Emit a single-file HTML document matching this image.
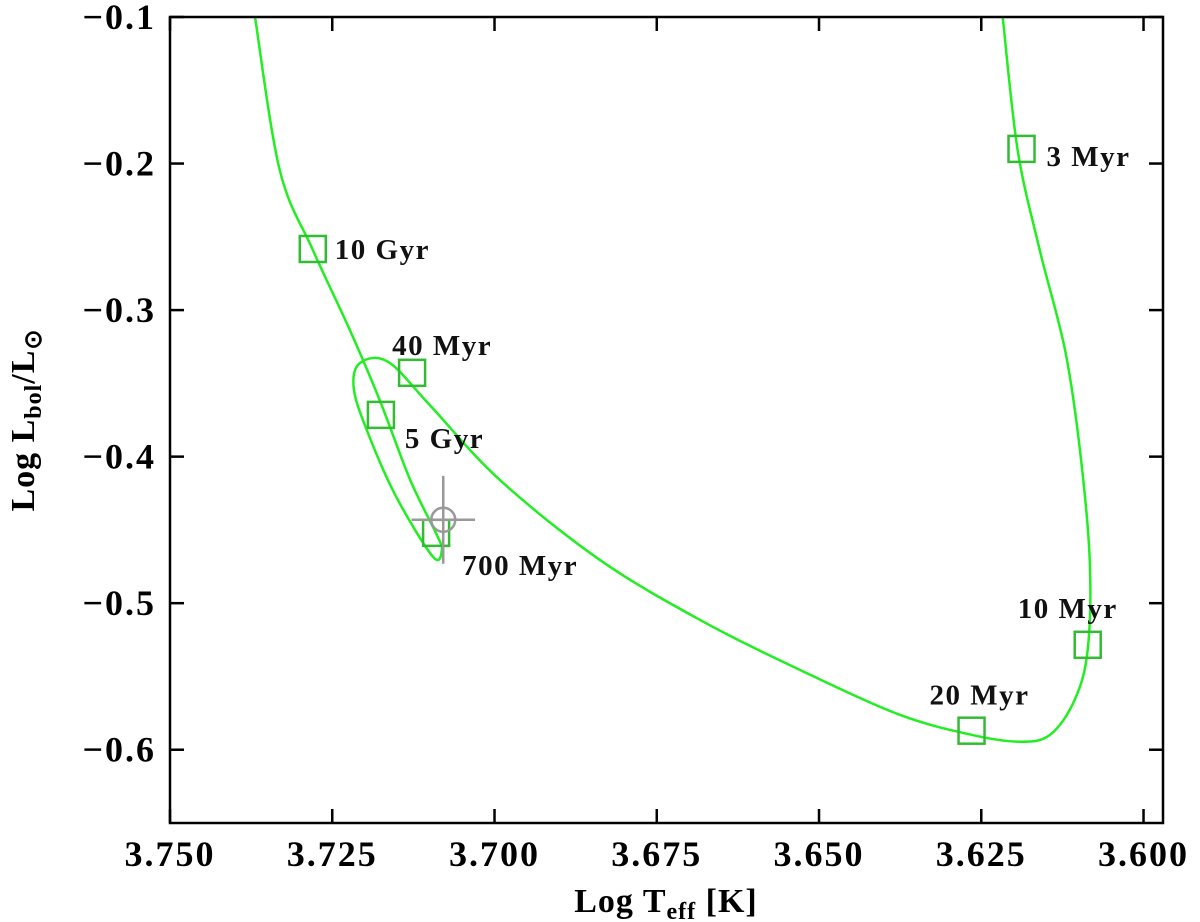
<!DOCTYPE html>
<html><head><meta charset="utf-8"><style>
body{margin:0;background:#fff}
svg{display:block;font-family:"Liberation Serif",serif;font-weight:bold}
</style></head><body>
<svg id="chart" width="1200" height="922" viewBox="0 0 1200 922" xmlns="http://www.w3.org/2000/svg">
<g id="marks"></g>
<g id="axes"></g>
</svg>
<script>
const xTicks=[3.750,3.725,3.700,3.675,3.650,3.625,3.600];
const xTickLabels=["3.750","3.725","3.700","3.675","3.650","3.625","3.600"];
const yTicks=[-0.1,-0.2,-0.3,-0.4,-0.5,-0.6];
const yTickLabels=["\u22120.1","\u22120.2","\u22120.3","\u22120.4","\u22120.5","\u22120.6"];
const trackT=[3.6217,3.6194,3.6160,3.6121,3.6098,3.6083,3.6086,3.6106,3.6144,3.6191,3.6265,3.6376,3.6530,3.6684,3.6838,3.6992,3.7100,3.7164,3.7207,3.7217,3.7197,3.7153,3.7095,3.7081,3.7089,3.7130,3.7177,3.7223,3.7280,3.7331,3.7369];
const trackL=[-0.1,-0.1907,-0.2589,-0.3271,-0.3953,-0.4704,-0.5318,-0.5659,-0.5898,-0.5945,-0.5898,-0.5761,-0.5454,-0.5113,-0.4704,-0.4158,-0.3647,-0.3353,-0.3360,-0.3531,-0.3817,-0.4261,-0.4683,-0.4636,-0.4533,-0.4158,-0.3613,-0.3135,-0.2589,-0.2044,-0.1];
const ageNames=["3 Myr","10 Gyr","40 Myr","5 Gyr","700 Myr","20 Myr","10 Myr"];
const ageT=[3.6188,3.7280,3.7127,3.7175,3.7090,3.6265,3.6086];
const ageL=[-0.1900,-0.2583,-0.3428,-0.3715,-0.4520,-0.5870,-0.5284];
const labelDx=[25,22,-20,24,26,-42,-70];
const labelDy=[17,10,-18,33,42,-26,-27];
const starT=3.7079, starL=-0.4431, starErrT=0.0049, starErrL=0.03;

const X0=170,X1=1163,Y0=17,Y1=823;
const xMin=3.75,xMax=3.597,yMin=-0.65,yMax=-0.1;
const sx=v=>X0+(xMin-v)/(xMin-xMax)*(X1-X0);
const sy=v=>Y0+(yMax-v)/(yMax-yMin)*(Y1-Y0);
const NS="http://www.w3.org/2000/svg";
function mk(t,a,p){const e=document.createElementNS(NS,t);for(const k in a)e.setAttribute(k,a[k]);p.appendChild(e);return e;}
const marks=document.getElementById('marks'),axes=document.getElementById('axes');

const P=trackT.map((t,i)=>[sx(t),sy(trackL[i])]);
let d='M'+P[0][0].toFixed(1)+','+P[0][1].toFixed(1);
for(let i=0;i<P.length-1;i++){
  const p0=P[Math.max(0,i-1)],p1=P[i],p2=P[i+1],p3=P[Math.min(P.length-1,i+2)];
  const c1=[p1[0]+(p2[0]-p0[0])/6,p1[1]+(p2[1]-p0[1])/6];
  const c2=[p2[0]-(p3[0]-p1[0])/6,p2[1]-(p3[1]-p1[1])/6];
  d+=' C'+c1[0].toFixed(1)+','+c1[1].toFixed(1)+' '+c2[0].toFixed(1)+','+c2[1].toFixed(1)+' '+p2[0].toFixed(1)+','+p2[1].toFixed(1);
}
const tr=mk('path',{d:d,fill:'none',stroke:'#22ee22','stroke-width':2.5,'stroke-linejoin':'round'},marks);



ageNames.forEach((n,i)=>{
  const cx=sx(ageT[i]),cy=sy(ageL[i]);
  const r=mk('rect',{x:cx-13,y:cy-13,width:26,height:26,fill:'none',stroke:'#33bb33','stroke-width':2.5},marks);
  
  
  const tx=mk('text',{x:cx+labelDx[i],y:cy+labelDy[i],'font-size':29,'letter-spacing':1.5,fill:'#111'},marks);
  tx.textContent=n;
  
  
});

const scx=sx(starT),scy=sy(starL);
const st=mk('g',{stroke:'#999','stroke-width':2.5,fill:'none'},marks);


mk('line',{x1:sx(starT+starErrT),x2:sx(starT-starErrT),y1:scy,y2:scy},st);
mk('line',{x1:scx,x2:scx,y1:sy(starL+starErrL),y2:sy(starL-starErrL)},st);
mk('circle',{cx:scx,cy:scy,r:12},st);

const fr=mk('rect',{x:X0,y:Y0,width:X1-X0,height:Y1-Y0,fill:'none',stroke:'#000','stroke-width':2.5},axes);


xTicks.forEach((v,i)=>{
  const x=sx(v);
  mk('line',{x1:x,x2:x,y1:Y1,y2:Y1-14,stroke:'#000','stroke-width':2.5},axes);
  mk('line',{x1:x,x2:x,y1:Y0,y2:Y0+14,stroke:'#000','stroke-width':2.5},axes);
  const t=mk('text',{x:x,y:866,'font-size':36,'letter-spacing':2,'text-anchor':'middle'},axes);
  t.textContent=xTickLabels[i];
  
  
});
yTicks.forEach((v,i)=>{
  const y=sy(v);
  mk('line',{x1:X0,x2:X0+14,y1:y,y2:y,stroke:'#000','stroke-width':2.5},axes);
  mk('line',{x1:X1,x2:X1-14,y1:y,y2:y,stroke:'#000','stroke-width':2.5},axes);
  const t=mk('text',{x:156,y:y+12,'font-size':36,'letter-spacing':2,'text-anchor':'end'},axes);
  t.textContent=yTickLabels[i];
  
  
});
const xt=mk('text',{x:666,y:912,'font-size':34,'letter-spacing':1,'text-anchor':'middle'},axes);
xt.innerHTML='Log T<tspan font-size="24" dy="7">eff</tspan><tspan dy="-7"> [K]</tspan>';


const yt=mk('text',{x:0,y:0,'font-size':34,'letter-spacing':1,'text-anchor':'middle',transform:'translate(34,420) rotate(-90)'},axes);
yt.innerHTML='Log L<tspan font-size="24" dy="7">bol</tspan><tspan dy="-7">/L</tspan><tspan font-size="24" dy="7">\u2299</tspan>';


</script>
</body></html>
